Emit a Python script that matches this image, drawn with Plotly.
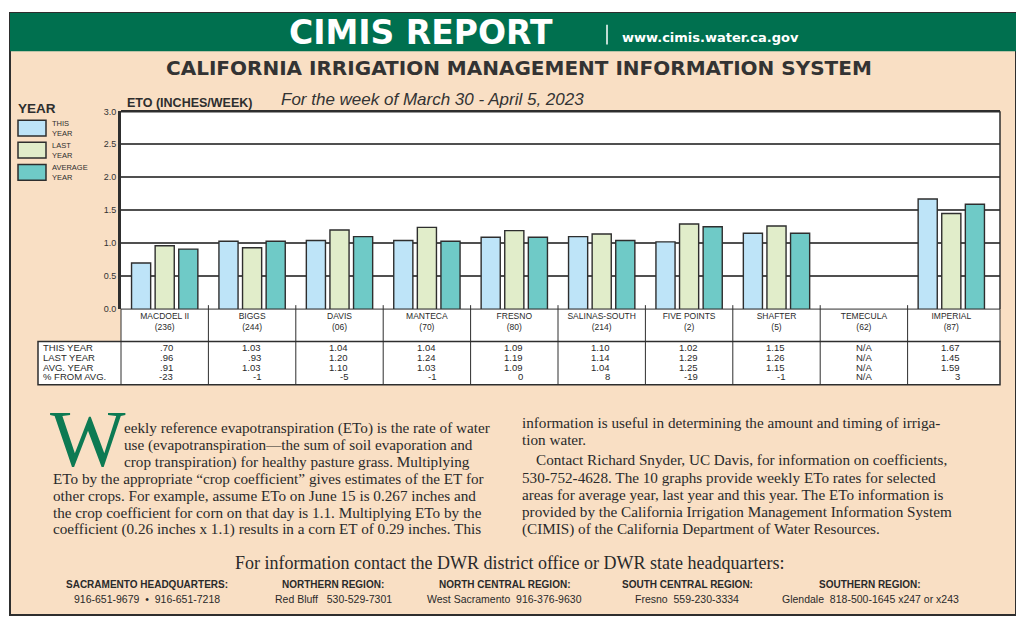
import plotly.graph_objects as go

# The page body adds an 8px margin, so the figure is 1008x613 placed at (8, 8).
OFF = 8
FW, FH = 1008, 613


def X(px):
    return (px - OFF) / FW


def Y(py):
    return 1 - (py - OFF) / FH


# ---------------- data ----------------
stations = ["MACDOEL II", "BIGGS", "DAVIS", "MANTECA", "FRESNO",
            "SALINAS-SOUTH", "FIVE POINTS", "SHAFTER", "TEMECULA", "IMPERIAL"]
station_ids = ["(236)", "(244)", "(06)", "(70)", "(80)",
               "(214)", "(2)", "(5)", "(62)", "(87)"]
this_year = [0.70, 1.03, 1.04, 1.04, 1.09, 1.10, 1.02, 1.15, None, 1.67]
last_year = [0.96, 0.93, 1.20, 1.24, 1.19, 1.14, 1.29, 1.26, None, 1.45]
avg_year = [0.91, 1.03, 1.10, 1.03, 1.09, 1.04, 1.25, 1.15, None, 1.59]
pct_from_avg = [-23, -1, -5, -1, 0, 8, -19, -1, None, 3]

series_names = ["THIS YEAR", "LAST YEAR", "AVERAGE YEAR"]
legend_labels = ["THIS<br>YEAR", "LAST<br>YEAR", "AVERAGE<br>YEAR"]
series_colors = ["#BEE4F8", "#E1EDCA", "#6FCAC7"]
table_row_labels = ["THIS YEAR", "LAST YEAR", "AVG. YEAR", "% FROM AVG."]
y_tick_vals = [0, 0.5, 1.0, 1.5, 2.0, 2.5, 3.0]
y_tick_text = ["0.0", "0.5", "1.0", "1.5", "2.0", "2.5", "3.0"]

body_left = [
    "eekly reference evapotranspiration (ETo) is the rate of water",
    "use (evapotranspiration\u2014the sum of soil evaporation and",
    "crop transpiration) for healthy pasture grass. Multiplying",
    "ETo by the appropriate \u201ccrop coefficient\u201d gives estimates of the ET for",
    "other crops. For example, assume ETo on June 15 is 0.267 inches and",
    "the crop coefficient for corn on that day is 1.1. Multiplying ETo by the",
    "coefficient (0.26 inches x 1.1) results in a corn ET of 0.29 inches. This",
]
body_right = [
    "information is useful in determining the amount and timing of irriga-",
    "tion water.",
    "Contact Richard Snyder, UC Davis, for information on coefficients,",
    "530-752-4628. The 10 graphs provide weekly ETo rates for selected",
    "areas for average year, last year and this year. The ETo information is",
    "provided by the California Irrigation Management Information System",
    "(CIMIS) of the California Department of Water Resources.",
]
contact_heads = ["SACRAMENTO HEADQUARTERS:", "NORTHERN REGION:", "NORTH CENTRAL REGION:",
                 "SOUTH CENTRAL REGION:", "SOUTHERN REGION:"]
contact_vals = ["916-651-9679  \u2022  916-651-7218", "Red Bluff   530-529-7301",
                "West Sacramento  916-376-9630", "Fresno  559-230-3334",
                "Glendale  818-500-1645 x247 or x243"]


def fmt(v):
    if v is None:
        return "N/A"
    s = f"{v:.2f}"
    return s[1:] if v < 1 else s


def fmt_pct(v):
    return "N/A" if v is None else f"{v:d}"


# ---------------- style ----------------
SANS = "Liberation Sans, Arial, sans-serif"
SERIF = "Liberation Serif, Times New Roman, serif"
WIDE = "DejaVu Sans, Liberation Sans, sans-serif"
GREEN = "#00704F"
BEIGE = "#F9DFC4"
DARK = "#2E2E2E"
TEXT = "#2A2A2A"

PLOT_L, PLOT_R, PLOT_T, PLOT_B = 121, 1000, 108, 309
CAT_W = 87.4
x_range = [-0.5, -0.5 + (PLOT_R - PLOT_L) / CAT_W]

fig = go.Figure()
for name, vals, col in zip(series_names, [this_year, last_year, avg_year], series_colors):
    fig.add_trace(go.Bar(
        name=name, x=list(range(len(stations))), y=vals,
        marker=dict(color=col, line=dict(color=DARK, width=1.4)),
        showlegend=False,
    ))

shapes = []
annotations = []


def ann(text, x, y, size, family=SANS, color=TEXT, xanchor="left", xref="paper",
        align="left", **extra):
    d = dict(text=text, xref=xref, yref="paper", x=x, y=y,
             xanchor=xanchor, yanchor="middle", showarrow=False,
             align=align, borderpad=0,
             font=dict(family=family, size=size, color=color))
    d.update(extra)
    annotations.append(d)


# frame & backgrounds (below the axes)
shapes.append(dict(type="rect", xref="paper", yref="paper", layer="below",
                   x0=X(10), x1=X(1016), y0=Y(620), y1=Y(8),
                   fillcolor=BEIGE, line=dict(color=DARK, width=2)))
shapes.append(dict(type="rect", xref="paper", yref="paper", layer="below",
                   x0=X(10), x1=X(1016), y0=Y(47), y1=Y(8),
                   fillcolor=GREEN, line=dict(width=0)))
shapes.append(dict(type="rect", xref="paper", yref="paper", layer="below",
                   x0=X(PLOT_L), x1=X(PLOT_R), y0=Y(PLOT_B), y1=Y(PLOT_T),
                   fillcolor="white", line=dict(width=0)))
shapes.append(dict(type="rect", xref="paper", yref="paper", layer="below",
                   x0=X(PLOT_L), x1=X(PLOT_R), y0=Y(342), y1=Y(PLOT_B),
                   fillcolor="white", line=dict(color=DARK, width=1)))
# header separator bar
shapes.append(dict(type="line", xref="paper", yref="paper",
                   x0=X(607), x1=X(607), y0=Y(20), y1=Y(40),
                   line=dict(color="white", width=1.5)))
# plot top and right border
shapes.append(dict(type="line", xref="paper", yref="paper",
                   x0=X(PLOT_L), x1=X(PLOT_R), y0=Y(PLOT_T), y1=Y(PLOT_T),
                   line=dict(color=DARK, width=2.5)))
shapes.append(dict(type="line", xref="paper", yref="paper",
                   x0=X(PLOT_R), x1=X(PLOT_R), y0=Y(PLOT_T), y1=Y(PLOT_B),
                   line=dict(color=DARK, width=1.5)))
# table
shapes.append(dict(type="rect", xref="paper", yref="paper",
                   x0=X(38), x1=X(PLOT_R), y0=Y(386), y1=Y(342),
                   fillcolor="white", line=dict(color=DARK, width=1.5)))
shapes.append(dict(type="line", xref="paper", yref="paper",
                   x0=X(PLOT_L), x1=X(PLOT_L), y0=Y(386), y1=Y(342),
                   line=dict(color=DARK, width=1)))
# separators between stations
for i in range(len(stations) - 1):
    shapes.append(dict(type="line", xref="x", yref="paper",
                       x0=i + 0.5, x1=i + 0.5, y0=Y(386), y1=Y(305),
                       line=dict(color=DARK, width=1)))

# legend
ann("<b>YEAR</b>", X(17), Y(105), 13.5, color=DARK)
for k, (lab, col) in enumerate(zip(legend_labels, series_colors)):
    top = 117 + k * 22.5
    shapes.append(dict(type="rect", xref="paper", yref="paper",
                       x0=X(18), x1=X(46), y0=Y(top + 16), y1=Y(top),
                       fillcolor=col, line=dict(color=DARK, width=1.5)))
    ann(lab, X(51), Y(top + 8.5), 7.5, color=DARK)

# headings
ann("<b>CIMIS REPORT</b>", X(421), Y(28), 33, family=WIDE, color="white", xanchor="center")
ann("<b>www.cimis.water.ca.gov</b>", X(621), Y(33), 13, family=WIDE, color="white")
ann("<b>CALIFORNIA IRRIGATION MANAGEMENT INFORMATION SYSTEM</b>", X(519), Y(64), 20,
    family=WIDE, color="#333333", xanchor="center")
ann("<b>ETO (INCHES/WEEK)</b>", X(126), Y(99.5), 12.5, color=DARK)
ann("<i>For the week of March 30 - April 5, 2023</i>", X(280), Y(96), 17, color="#333333")

# table rows
row_y = [348, 358, 368, 378]
row_vals = [[fmt(v) for v in this_year], [fmt(v) for v in last_year],
            [fmt(v) for v in avg_year], [fmt_pct(v) for v in pct_from_avg]]
for r, (lab, vals) in enumerate(zip(table_row_labels, row_vals)):
    ann(lab, X(42), Y(row_y[r]), 9.5)
    for i, s in enumerate(vals):
        ann(s, i + 0.11, Y(row_y[r]), 9.5, xanchor="right", xref="x")

# body text
ann("W", X(49), Y(441), 80, family=SERIF, color="#0D7A53", height=62, valign="middle")
left_x = [123, 123, 123, 52, 52, 52, 52]
for k, line in enumerate(body_left):
    ann(line, X(left_x[k]), Y(430 + k * 17.1), 15.2, family=SERIF)
right_x = [521, 521, 535, 521, 521, 521, 521]
right_y = [424, 442, 462, 480, 497.5, 515, 532.5]
for k, line in enumerate(body_right):
    ann(line, X(right_x[k]), Y(right_y[k]), 15.2, family=SERIF)

# footer
ann("For information contact the DWR district office or DWR state headquarters:",
    X(510), Y(567), 18, family=SERIF, xanchor="center")
contact_x = [147, 333, 504, 687, 870]
for cx, hd, vl in zip(contact_x, contact_heads, contact_vals):
    ann(f"<b>{hd}</b>", X(cx), Y(589), 10, xanchor="center")
    ann(vl, X(cx), Y(604), 10.5, xanchor="center")

fig.update_layout(
    width=FW, height=FH, autosize=False,
    margin=dict(l=0, r=0, t=0, b=0),
    paper_bgcolor="white", plot_bgcolor="rgba(0,0,0,0)",
    barmode="group", bargap=0.19, bargroupgap=0.19,
    shapes=shapes, annotations=annotations,
    xaxis=dict(domain=[X(PLOT_L), X(PLOT_R)], range=x_range,
               tickmode="array", tickvals=list(range(len(stations))),
               ticktext=[f"{n}<br>{s}" for n, s in zip(stations, station_ids)],
               tickfont=dict(family=SANS, size=8.5, color=TEXT),
               ticks="", showgrid=False, zeroline=False, showline=False, fixedrange=True),
    yaxis=dict(domain=[Y(PLOT_B), Y(PLOT_T)], range=[0, 3],
               tickmode="array", tickvals=y_tick_vals, ticktext=y_tick_text,
               tickfont=dict(family=SANS, size=9, color="#333333"),
               ticks="", showgrid=True, gridcolor="#505050", gridwidth=1.6,
               zeroline=False, showline=True, linecolor=DARK, linewidth=3,
               fixedrange=True),
)

fig.write_html("out.html", config={"displayModeBar": False})
